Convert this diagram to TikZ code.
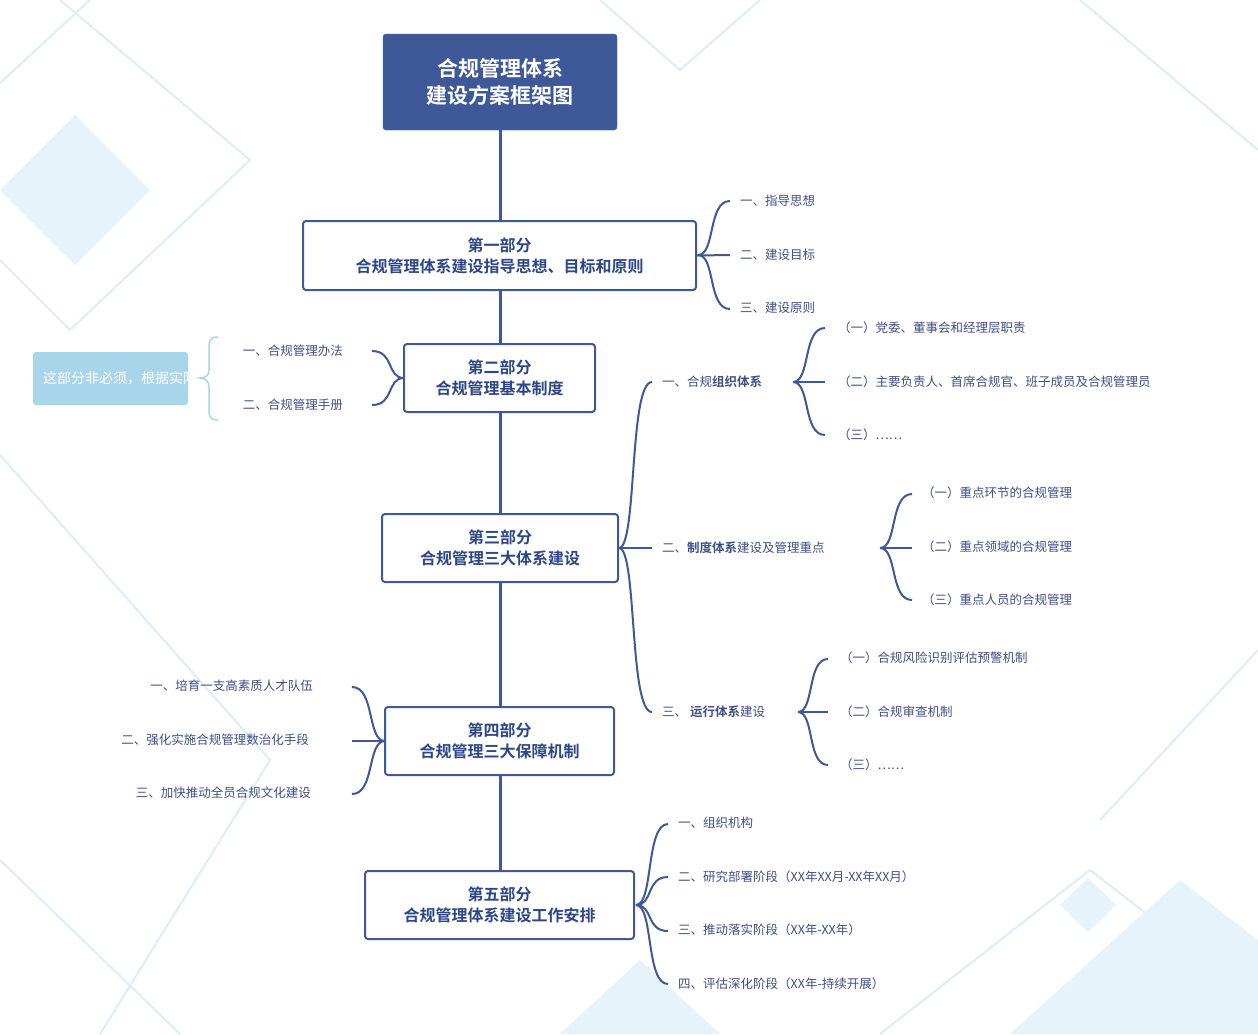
\documentclass[tikz,border=0pt]{standalone}
\usepackage{fontspec}
\setmainfont{Noto Sans CJK SC}
\newfontfamily\cjkb{Noto Sans CJK SC Bold}
\begin{document}
\begin{tikzpicture}[x=1pt,y=-1pt,
  ln/.style={draw=mainblue,line width=2pt},
  partbox/.style={draw=mainblue,line width=2pt,rounded corners=3pt,fill=white,align=center,font=\cjkb\fontsize{16}{21}\selectfont,text=darkblue,inner sep=0pt},
  leaf/.style={font=\fontsize{12.5}{15}\selectfont,text=leafblue,inner sep=0pt},
  bgl/.style={draw=bgblue,line width=2pt},
  bgf/.style={fill=bgblue!70}]
\definecolor{mainblue}{HTML}{3E5898}
\definecolor{darkblue}{HTML}{2C4688}
\definecolor{leafblue}{HTML}{3D4F86}
\definecolor{bgblue}{HTML}{DDEEF9}
\definecolor{noteblue}{HTML}{A9D5EB}
\useasboundingbox (0,0) rectangle (1258,1034);
% background decorations
\fill[white] (0,0) rectangle (1258,1034);
\draw[bgl] (-40,120) -- (90,0);
\draw[bgl] (60,0) -- (250,160) -- (70,330) -- (-60,200);
\fill[bgf] (0,190) -- (75,115) -- (150,190) -- (75,265) -- cycle;
\draw[bgl] (0,455) -- (270,760) -- (100,1034);
\draw[bgl] (0,860) -- (180,1034);
\draw[bgl] (600,0) -- (680,70) -- (760,0);
\draw[bgl] (1080,0) -- (1258,150);
\draw[bgl] (1258,650) -- (1100,820);
\draw[bgl] (880,1034) -- (1090,870) -- (1258,1000);
\fill[bgf] (1060,905) -- (1088,878) -- (1116,905) -- (1088,932) -- cycle;
\fill[bgf] (1010,1034) -- (1180,880) -- (1258,940) -- (1258,1034) -- cycle;
\fill[bgf] (560,1034) -- (640,960) -- (720,1034) -- cycle;
% trunk
\draw[mainblue,line width=3pt] (500,130) -- (500,871);
% boxes
\node[draw=mainblue,fill=mainblue,rounded corners=3pt,minimum width=234pt,minimum height=96pt,align=center,text=white,font=\cjkb\fontsize{21}{27}\selectfont] (title) at (500,82) {合规管理体系\\建设方案框架图};
\node[partbox,minimum width=393pt,minimum height=69pt] (p1) at (499.5,255.5) {第一部分\\合规管理体系建设指导思想、目标和原则};
\node[partbox,minimum width=191pt,minimum height=68pt] (p2) at (499.5,378) {第二部分\\合规管理基本制度};
\node[partbox,minimum width=236pt,minimum height=68pt] (p3) at (500,548) {第三部分\\合规管理三大体系建设};
\node[partbox,minimum width=229pt,minimum height=68pt] (p4) at (499.5,741) {第四部分\\合规管理三大保障机制};
\node[partbox,minimum width=269pt,minimum height=68pt] (p5) at (499.5,905) {第五部分\\合规管理体系建设工作安排};
% helper for fan braces
\newcommand\fanto[4]{% tip x, tip y, end x, end y
  \draw[ln] (#1,#2) .. controls ({#1+0.55*(#3-#1)},#2) and ({#1+0.3*(#3-#1)},#4) .. (#3,#4);}
% part1
\coordinate (t1) at (p1.east);
\fanto{698}{255}{730}{201}\fanto{698}{255}{730}{309}\draw[ln] (t1) -- (730,255);
\node[leaf,anchor=west] (a1) at (740,201) {一、指导思想};
\node[leaf,anchor=west] (a2) at (740,255) {二、建设目标};
\node[leaf,anchor=west] (a3) at (740,308) {三、建设原则};
% part2
\fanto{404}{378}{372}{351}\fanto{404}{378}{372}{405}
\node[leaf,anchor=east] (b1) at (343,351) {一、合规管理办法};
\node[leaf,anchor=east] (b2) at (343,405) {二、合规管理手册};
\node[fill=noteblue,rounded corners=3pt,minimum width=155pt,minimum height=53pt,text width=135pt,align=left,text=white,font=\fontsize{14}{18}\selectfont,inner sep=0pt] (note) at (110.5,378.5) {这部分非必须，根据实际增删};
\draw[draw=noteblue,line width=1.5pt] (218,337) .. controls (209,337) and (209,342) .. (209,350) -- (209,370) .. controls (209,376) and (205,378) .. (200,378) .. controls (205,378) and (209,381) .. (209,387) -- (209,408) .. controls (209,416) and (209,420) .. (218,420);
% part3
\coordinate (t3) at (p3.east);
\fanto{619}{548}{652}{382}\fanto{619}{548}{652}{712}\draw[ln] (t3) -- (652,548);
\node[leaf,anchor=west] (c1) at (662,382) {一、合规{\cjkb 组织体系}};
\node[leaf,anchor=west] (c2) at (662,548) {二、{\cjkb 制度体系}建设及管理重点};
\node[leaf,anchor=west] (c3) at (662,712) {三、 {\cjkb 运行体系}建设};
\fanto{793}{382}{825}{328}\fanto{793}{382}{825}{435}\draw[ln] (793,382) -- (825,382);
\node[leaf,anchor=west] (d1) at (838,328) {（一）党委、董事会和经理层职责};
\node[leaf,anchor=west] (d2) at (838,382) {（二）主要负责人、首席合规官、班子成员及合规管理员};
\node[leaf,anchor=west] (d3) at (838,435) {（三）……};
\fanto{880}{548}{912}{494}\fanto{880}{548}{912}{600}\draw[ln] (880,548) -- (912,548);
\node[leaf,anchor=west] (e1) at (922,493) {（一）重点环节的合规管理};
\node[leaf,anchor=west] (e2) at (922,547) {（二）重点领域的合规管理};
\node[leaf,anchor=west] (e3) at (922,600) {（三）重点人员的合规管理};
\fanto{798}{712}{828}{659}\fanto{798}{712}{828}{765}\draw[ln] (798,712) -- (828,712);
\node[leaf,anchor=west] (f1) at (840,658) {（一）合规风险识别评估预警机制};
\node[leaf,anchor=west] (f2) at (840,712) {（二）合规审查机制};
\node[leaf,anchor=west] (f3) at (840,765) {（三）……};
% part4
\coordinate (t4) at (p4.west);
\fanto{385}{741}{352}{687}\fanto{385}{741}{352}{794}\draw[ln] (t4) -- (352,741);
\node[leaf,anchor=east] (g1) at (313,686) {一、培育一支高素质人才队伍};
\node[leaf,anchor=east] (g2) at (309,740) {二、强化实施合规管理数治化手段};
\node[leaf,anchor=east] (g3) at (311,793) {三、加快推动全员合规文化建设};
% part5
\fanto{636}{905}{668}{824}\fanto{636}{905}{668}{877}\fanto{636}{905}{668}{931}\fanto{636}{905}{668}{984}
\node[leaf,anchor=west] (h1) at (678,823) {一、组织机构};
\node[leaf,anchor=west] (h2) at (678,877) {二、研究部署阶段（XX年XX月-XX年XX月）};
\node[leaf,anchor=west] (h3) at (678,930) {三、推动落实阶段（XX年-XX年）};
\node[leaf,anchor=west] (h4) at (678,984) {四、评估深化阶段（XX年-持续开展）};
\end{tikzpicture}
\end{document}
